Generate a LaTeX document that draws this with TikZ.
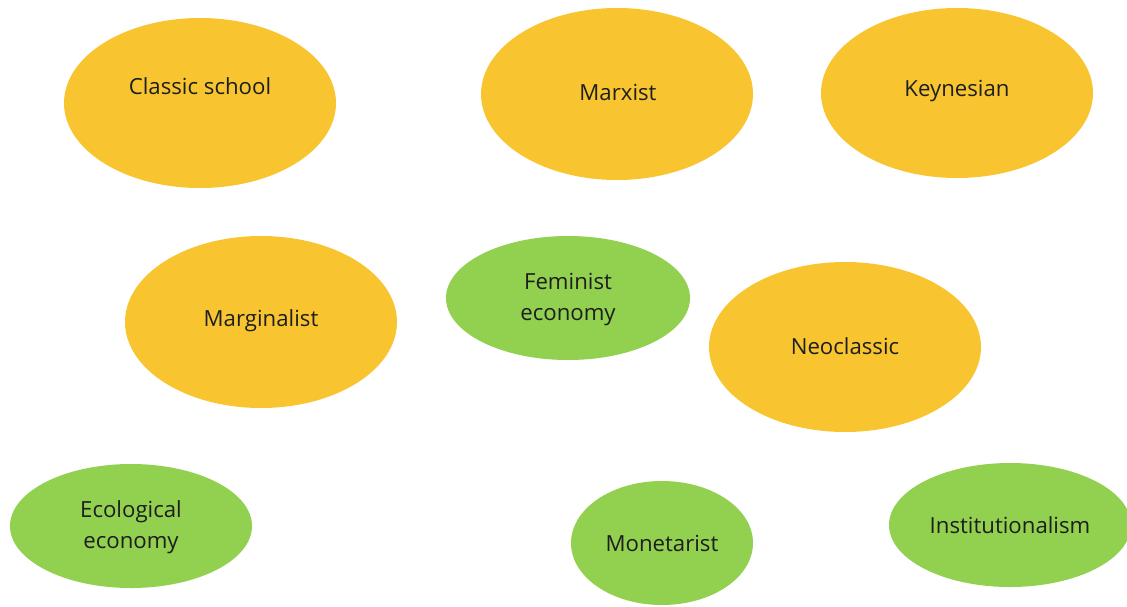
\documentclass[tikz,border=0pt]{standalone}
\usepackage{fontspec}
\setmainfont{Open Sans}
\definecolor{schoolyellow}{HTML}{F8C531}
\definecolor{schoolgreen}{HTML}{92D050}
\definecolor{labeltext}{HTML}{1E1E1E}

\begin{document}
\begin{tikzpicture}[x=1pt, y=-1pt,
		label/.style={text=labeltext, font=\fontsize{22.2}{31}\selectfont, align=center}]
		\useasboundingbox (0,0) rectangle (1127,606);
		% older schools
		\fill[schoolyellow] (200,103) ellipse [x radius=136, y radius=85];
		\fill[schoolyellow] (617,94) ellipse [x radius=136, y radius=86];
		\fill[schoolyellow] (957,93) ellipse [x radius=136, y radius=85];
		\fill[schoolyellow] (261,322) ellipse [x radius=136, y radius=86];
		\fill[schoolyellow] (845,347) ellipse [x radius=136, y radius=85];
		% newer schools
		\fill[schoolgreen] (568,298) ellipse [x radius=122, y radius=62];
		\fill[schoolgreen] (131,526) ellipse [x radius=121, y radius=62];
		\fill[schoolgreen] (662,543) ellipse [x radius=91, y radius=62];
		\fill[schoolgreen] (1010,525) ellipse [x radius=121, y radius=62];
		% labels
		\node[label] (classic) at (200,86) {Classic school};
		\node[label] (marxist) at (618,92) {Marxist};
		\node[label] (keynesian) at (957,91) {Keynesian};
		\node[label] (marginalist) at (261,321) {Marginalist};
		\node[label] (feminist) at (568,300) {Feminist\\economy};
		\node[label] (neoclassic) at (845,346) {Neoclassic};
		\node[label] (ecological) at (131,527.5) {Ecological\\economy};
		\node[label] (monetarist) at (662,543) {Monetarist};
		\node[label] (institutional) at (1010,525) {Institutionalism};
	\end{tikzpicture}
\end{document}
